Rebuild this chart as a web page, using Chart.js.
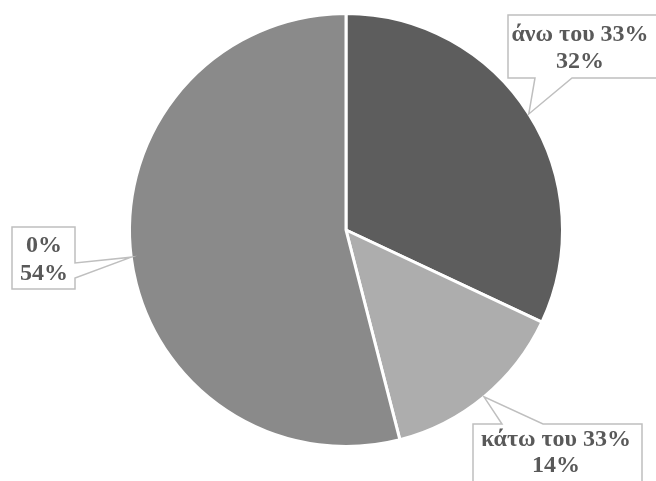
<!DOCTYPE html>
<html>
<head>
<meta charset="utf-8">
<script src="https://cdn.jsdelivr.net/npm/chart.js@4/dist/chart.umd.min.js"></script>
<style>
  html, body { margin: 0; padding: 0; background: #ffffff; }
  #wrap { width: 656px; height: 481px; position: relative; }
</style>
</head>
<body>
<div id="wrap"><canvas id="pie" width="656" height="481"></canvas></div>
<script>
// Share of answers per group
const categories = ['άνω του 33%', 'κάτω του 33%', '0%'];
const values = [32, 14, 54];
const sliceColors = ['#5d5d5d', '#adadad', '#8a8a8a'];

// Callout boxes: rect, text centre, line centres and the side carrying the pointer wedge
const callouts = [
  { box: [508, 15, 160, 63], cx: 580, lines: [35, 62], side: 'bottom', base: [535, 572] },
  { box: [473, 424, 169, 70], cx: 556, lines: [440, 466], side: 'top', base: [502, 543] },
  { box: [12, 227, 63, 62], cx: 44, lines: [246, 274], side: 'right', base: [263, 278] }
];

const calloutPlugin = {
  id: 'callouts',
  afterDatasetsDraw(chart) {
    const ctx = chart.ctx;
    const meta = chart.getDatasetMeta(0);
    meta.data.forEach((arc, i) => {
      const c = callouts[i];
      if (!c) return;
      const mid = (arc.startAngle + arc.endAngle) / 2;
      const tx = arc.x + Math.cos(mid) * arc.outerRadius;
      const ty = arc.y + Math.sin(mid) * arc.outerRadius;
      const [x, y, w, h] = c.box;
      const L = x, T = y, R = x + w, B = y + h;
      const [a, b] = c.base;
      let pts;
      if (c.side === 'top') {
        pts = [[L, T], [a, T], [tx, ty], [b, T], [R, T], [R, B], [L, B]];
      } else if (c.side === 'right') {
        pts = [[L, T], [R, T], [R, a], [tx, ty], [R, b], [R, B], [L, B]];
      } else if (c.side === 'bottom') {
        pts = [[L, T], [R, T], [R, B], [b, B], [tx, ty], [a, B], [L, B]];
      } else {
        pts = [[L, T], [R, T], [R, B], [L, B], [L, b], [tx, ty], [L, a]];
      }
      ctx.save();
      ctx.beginPath();
      pts.forEach((p, k) => k ? ctx.lineTo(p[0], p[1]) : ctx.moveTo(p[0], p[1]));
      ctx.closePath();
      ctx.fillStyle = '#ffffff';
      ctx.fill();
      ctx.lineWidth = 1.5;
      ctx.strokeStyle = '#bfbfbf';
      ctx.stroke();

      const total = values.reduce((s, v) => s + v, 0);
      const pct = Math.round(values[i] / total * 100) + '%';
      ctx.fillStyle = '#595959';
      ctx.font = 'bold 24px "Liberation Serif", "Times New Roman", serif';
      ctx.textAlign = 'center';
      ctx.textBaseline = 'middle';
      ctx.fillText(categories[i], c.cx, c.lines[0]);
      ctx.fillText(pct, c.cx, c.lines[1]);
      ctx.restore();
    });
  }
};

new Chart(document.getElementById('pie'), {
  type: 'pie',
  data: {
    labels: categories,
    datasets: [{
      data: values,
      backgroundColor: sliceColors,
      borderColor: '#ffffff',
      borderWidth: 3,
      hoverOffset: 0
    }]
  },
  options: {
    responsive: false,
    animation: false,
    events: [],
    layout: { padding: { left: 128, right: 92, top: 12, bottom: 33 } },
    plugins: {
      legend: { display: false },
      tooltip: { enabled: false }
    }
  },
  plugins: [calloutPlugin]
});
</script>
</body>
</html>
